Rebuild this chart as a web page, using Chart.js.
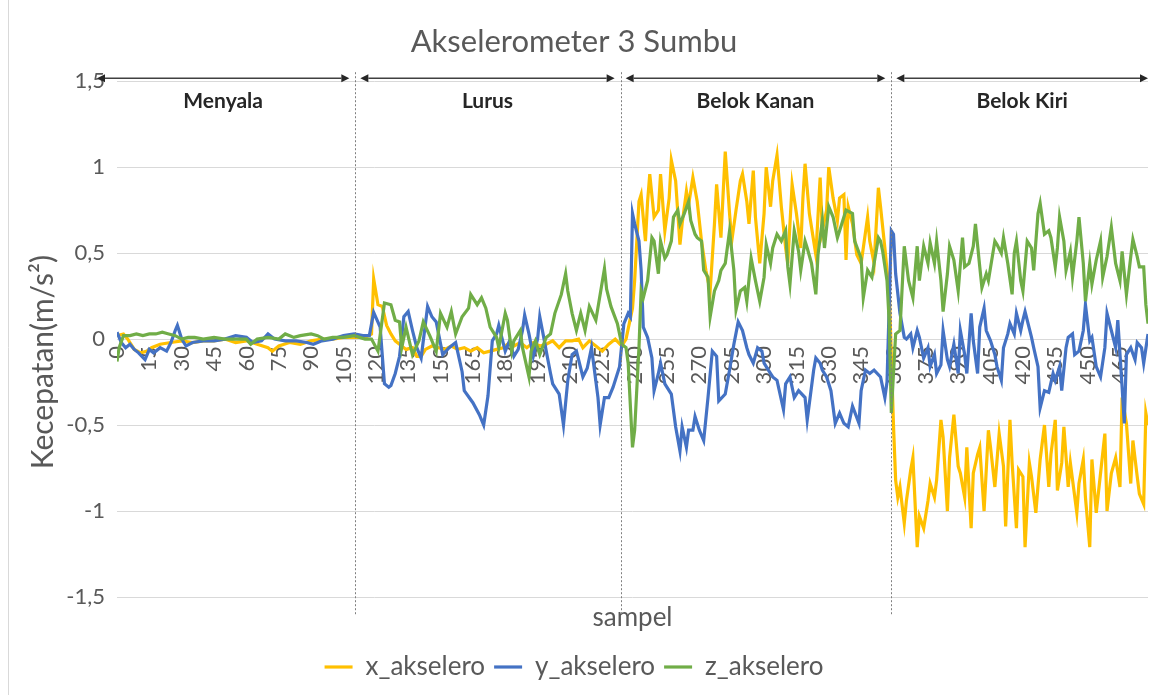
<!DOCTYPE html>
<html>
<head>
<meta charset="utf-8">
<script src="https://cdn.jsdelivr.net/npm/chart.js@4.4.0/dist/chart.umd.min.js"></script>
<style>
  html, body { margin: 0; padding: 0; background: #fff; }
  #wrap { position: relative; width: 1155px; height: 695px; }
</style>
</head>
<body>
<div id="wrap"><canvas id="myChart" width="1155" height="695"></canvas></div>
<script>
// [sample, value]
const xAkselero = [[0,0.02],[3,0.03],[5,0],[8,-0.06],[11,-0.08],[14,-0.07],[16,-0.05],[20,-0.03],[25,-0.02],[30,-0.01],[35,-0.02],[40,-0.01],[45,-0.01],[50,0],[55,-0.02],[60,-0.01],[65,-0.03],[70,-0.05],[72,-0.07],[75,-0.04],[80,-0.02],[85,-0.03],[90,-0.01],[95,0],[100,0],[105,0.01],[110,0.01],[115,0.01],[118,0.03],[119,0.35],[121,0.2],[123,0.19],[125,0.08],[127,0.03],[129,-0.01],[131,-0.03],[134,-0.06],[137,-0.05],[139,-0.1],[141,-0.1],[143,-0.06],[146,-0.04],[149,-0.05],[152,-0.06],[155,-0.04],[158,-0.06],[161,-0.05],[164,-0.07],[167,-0.05],[170,-0.08],[173,-0.07],[176,-0.06],[179,-0.05],[182,-0.02],[184,-0.04],[187,-0.02],[190,-0.05],[193,-0.02],[196,-0.04],[199,-0.03],[202,-0.01],[205,-0.05],[208,-0.01],[211,-0.01],[214,0],[216,-0.05],[219,-0.01],[222,-0.04],[225,-0.07],[228,-0.03],[231,0],[234,-0.04],[236,0],[239,0.18],[240,0.34],[242,0.8],[243,0.84],[245,0.57],[246,0.8],[247,0.96],[249,0.71],[251,0.75],[252,0.96],[254,0.63],[256,0.82],[257,1.04],[259,0.92],[261,0.55],[262,0.67],[264,0.86],[265,0.78],[267,0.94],[269,0.8],[271,0.57],[273,0.4],[275,0.28],[277,0.67],[278,0.9],[280,0.59],[282,1.09],[284,0.73],[285,0.57],[287,0.75],[289,0.92],[290,0.96],[292,0.8],[293,0.67],[295,0.98],[296,0.71],[298,0.44],[300,0.73],[301,1],[303,0.77],[304,0.92],[306,1.07],[308,0.77],[310,0.53],[311,0.44],[313,0.9],[315,0.73],[317,0.53],[318,0.82],[319,1.02],[321,0.73],[323,0.57],[324,0.49],[326,0.94],[327,0.63],[329,0.75],[330,1],[332,0.82],[334,0.69],[335,0.82],[337,0.84],[338,0.46],[339,0.77],[341,0.67],[343,0.49],[345,0.44],[348,0.71],[349,0.57],[351,0.44],[353,0.88],[354,0.77],[356,0.53],[357,0.4],[358,0.3],[360,-0.5],[361,-0.82],[362,-0.92],[363,-0.86],[365,-1.07],[366,-0.94],[368,-0.76],[369,-0.69],[371,-1.21],[372,-1.03],[374,-1.1],[376,-0.94],[377,-0.84],[379,-0.92],[380,-0.82],[382,-0.47],[383,-0.57],[385,-1],[386,-0.69],[388,-0.44],[390,-0.74],[391,-0.78],[393,-0.92],[394,-0.63],[396,-1.1],[397,-0.78],[399,-0.67],[400,-0.63],[402,-1],[404,-0.53],[405,-0.63],[407,-0.86],[409,-0.55],[411,-0.74],[412,-1.09],[414,-0.47],[415,-0.72],[417,-1.1],[418,-0.76],[420,-0.8],[421,-1.21],[423,-0.72],[424,-0.8],[426,-1.01],[428,-0.7],[430,-0.5],[432,-0.86],[433,-0.67],[435,-0.47],[436,-0.88],[438,-0.72],[439,-0.51],[441,-0.86],[442,-0.72],[445,-1.01],[446,-0.84],[448,-0.7],[449,-0.92],[451,-1.21],[452,-0.7],[454,-1.01],[456,-0.78],[458,-0.55],[459,-1],[461,-0.78],[463,-0.69],[465,-0.86],[466,-0.34],[468,-0.49],[470,-0.84],[471,-0.59],[473,-0.8],[474,-0.9],[476,-0.96],[477,-0.43],[478,-0.5]];

const yAkselero = [[0,0.04],[2,-0.02],[4,-0.05],[6,-0.03],[8,-0.06],[10,-0.08],[13,-0.12],[15,-0.06],[17,-0.08],[20,-0.05],[23,-0.07],[25,-0.02],[27,0.05],[28,0.08],[30,0],[32,-0.04],[35,-0.02],[40,-0.01],[45,-0.01],[50,0],[55,0.02],[60,0.01],[63,-0.02],[67,-0.01],[70,0.03],[73,0],[78,-0.01],[83,-0.01],[88,-0.02],[91,-0.03],[95,-0.01],[100,0],[105,0.02],[110,0.03],[114,0.02],[117,0.02],[119,0.155],[122,0.07],[124,-0.26],[126,-0.28],[127,-0.27],[129,-0.2],[131,-0.1],[133,0.13],[135,0.16],[137,0.05],[139,-0.05],[141,-0.11],[144,0.19],[146,0.13],[148,0.1],[151,-0.09],[154,-0.05],[157,-0.02],[160,-0.19],[161,-0.3],[165,-0.37],[168,-0.44],[170,-0.5],[172,-0.33],[174,-0.01],[176,0.03],[177,0.08],[180,-0.07],[182,-0.01],[184,-0.1],[186,-0.06],[188,0.05],[189,0.14],[191,0.03],[193,-0.1],[195,0],[196,0.13],[198,0],[199,-0.07],[201,-0.2],[202,-0.26],[205,-0.32],[207,-0.5],[209,-0.24],[211,-0.09],[213,-0.07],[216,-0.22],[218,-0.17],[220,-0.05],[223,-0.34],[224,-0.5],[226,-0.34],[228,-0.34],[230,-0.28],[233,-0.16],[235,0.09],[237,0.15],[238,0.13],[239,0.73],[240,0.67],[242,0.57],[243,0.4],[244,0.07],[246,0.01],[248,-0.11],[249,-0.3],[251,-0.2],[252,-0.14],[254,-0.26],[257,-0.32],[259,-0.51],[261,-0.65],[262,-0.51],[264,-0.63],[265,-0.53],[267,-0.53],[268,-0.45],[270,-0.53],[272,-0.59],[274,-0.34],[276,-0.07],[278,-0.1],[279,-0.36],[282,-0.32],[284,-0.18],[286,-0.03],[288,0.1],[290,0.05],[292,-0.05],[293,-0.09],[295,-0.14],[297,-0.05],[299,-0.07],[300,-0.14],[302,-0.18],[304,-0.22],[306,-0.24],[309,-0.41],[310,-0.26],[312,-0.22],[314,-0.34],[316,-0.3],[319,-0.34],[320,-0.47],[323,-0.18],[324,-0.11],[326,-0.14],[327,-0.18],[329,-0.22],[331,-0.3],[333,-0.49],[335,-0.43],[337,-0.49],[339,-0.51],[341,-0.39],[344,-0.49],[345,-0.3],[347,-0.18],[349,-0.2],[351,-0.18],[354,-0.22],[356,-0.34],[357,-0.25],[359,0.63],[360,0.61],[361,0.38],[363,0.15],[365,0.01],[366,0],[368,0.03],[369,-0.05],[371,0.05],[372,0.01],[374,-0.11],[376,-0.05],[377,-0.16],[379,-0.09],[380,-0.2],[382,-0.15],[383,0.05],[385,-0.12],[386,-0.16],[388,-0.03],[390,-0.2],[391,0.05],[393,-0.09],[394,-0.2],[396,0.15],[397,-0.01],[399,-0.2],[400,0.07],[402,0.18],[403,0.05],[405,-0.01],[407,-0.09],[408,-0.16],[410,-0.24],[411,-0.05],[413,0.03],[414,0.09],[416,0.03],[417,0.15],[419,0.05],[420,0.11],[421,0.16],[424,0.01],[425,-0.05],[427,-0.16],[428,-0.4],[430,-0.3],[432,-0.31],[434,-0.2],[435,-0.24],[437,-0.16],[438,-0.3],[440,-0.05],[441,0.01],[443,0.03],[444,-0.09],[446,-0.07],[448,0.05],[449,0.2],[451,-0.01],[452,0.01],[454,-0.16],[456,-0.22],[458,-0.05],[459,0.15],[461,0.05],[463,-0.05],[464,0.11],[466,-0.28],[467,-0.49],[468,-0.09],[470,-0.05],[472,-0.12],[473,-0.02],[475,-0.05],[476,-0.14],[478,0.03]];

const zAkselero = [[0,-0.13],[1,-0.05],[3,0.02],[6,0.02],[9,0.03],[12,0.02],[15,0.03],[18,0.03],[21,0.04],[24,0.03],[27,0.02],[30,0],[33,0.01],[36,0.01],[40,0],[45,0.01],[50,0],[55,0],[60,0],[62,-0.03],[65,0],[70,0.01],[75,0],[78,0.03],[82,0.01],[85,0.02],[90,0.03],[93,0.02],[96,0],[100,0.01],[105,0.01],[110,0.02],[115,0],[118,0],[121,-0.07],[124,0.21],[127,0.2],[129,0.11],[131,0.1],[132,-0.05],[134,0.07],[137,-0.09],[140,-0.01],[142,0.1],[145,0.02],[148,-0.07],[150,0.15],[153,0.07],[155,0.16],[157,0.03],[160,0.13],[163,0.18],[164,0.26],[167,0.2],[169,0.24],[171,0.18],[173,0.07],[176,0.01],[177,-0.05],[180,0.15],[181,0.11],[183,-0.07],[184,-0.01],[187,0.05],[188,-0.05],[191,-0.22],[192,-0.07],[194,-0.01],[196,-0.09],[199,0.01],[201,0.03],[203,0.15],[206,0.26],[208,0.38],[209,0.28],[211,0.15],[213,0.05],[215,0.15],[217,0.05],[219,0.19],[222,0.11],[224,0.26],[226,0.41],[227,0.29],[229,0.19],[232,0.09],[234,-0.03],[236,-0.05],[237,-0.14],[239,-0.63],[240,-0.53],[242,-0.05],[243,0.28],[244,0.24],[246,0.34],[248,0.59],[249,0.57],[251,0.38],[252,0.57],[254,0.47],[255,0.49],[257,0.57],[258,0.71],[260,0.75],[261,0.67],[263,0.73],[265,0.8],[266,0.69],[268,0.61],[269,0.59],[271,0.57],[272,0.4],[274,0.36],[275,0.13],[277,0.28],[279,0.34],[280,0.4],[282,0.44],[284,0.63],[286,0.4],[287,0.17],[289,0.28],[291,0.3],[292,0.22],[294,0.47],[296,0.34],[298,0.22],[300,0.36],[301,0.55],[303,0.44],[304,0.53],[306,0.61],[308,0.57],[310,0.63],[311,0.42],[312,0.32],[314,0.63],[316,0.51],[317,0.4],[319,0.57],[320,0.53],[322,0.44],[324,0.26],[325,0.49],[327,0.69],[328,0.53],[330,0.77],[332,0.71],[334,0.59],[336,0.67],[338,0.75],[341,0.73],[342,0.57],[345,0.47],[346,0.24],[348,0.4],[350,0.36],[351,0.44],[353,0.59],[354,0.57],[355,0.51],[357,0.34],[358,0.1],[359,-0.43],[361,0.03],[363,0.05],[365,0.54],[367,0.34],[369,0.24],[371,0.54],[372,0.34],[374,0.54],[376,0.44],[377,0.56],[379,0.44],[380,0.57],[382,0.34],[383,0.16],[385,0.38],[386,0.54],[388,0.46],[390,0.28],[392,0.59],[393,0.42],[395,0.44],[397,0.54],[398,0.67],[400,0.42],[401,0.3],[403,0.38],[404,0.34],[407,0.57],[408,0.55],[410,0.5],[411,0.59],[413,0.44],[415,0.26],[416,0.5],[417,0.57],[419,0.34],[420,0.28],[422,0.57],[424,0.53],[425,0.4],[427,0.73],[428,0.79],[430,0.61],[432,0.63],[433,0.59],[435,0.42],[436,0.53],[437,0.71],[439,0.57],[440,0.4],[442,0.51],[443,0.36],[445,0.57],[446,0.71],[448,0.44],[449,0.22],[451,0.44],[452,0.32],[454,0.46],[456,0.57],[457,0.36],[459,0.48],[461,0.65],[463,0.44],[465,0.34],[466,0.51],[468,0.26],[470,0.48],[471,0.58],[473,0.48],[474,0.42],[476,0.42],[477,0.2],[478,0.09]];

const seriesNames = ['x_akselero', 'y_akselero', 'z_akselero'];
const seriesColors = ['#FFC000', '#4472C4', '#70AD47'];
const sections = ['Menyala', 'Lurus', 'Belok Kanan', 'Belok Kiri'];
const sectionBounds = [0, 110.5, 233.5, 359, 478];  // sample where each phase starts / ends

const grey = '#595959';
Chart.defaults.font.family = 'Lato, sans-serif';
Chart.defaults.color = grey;

function arrow(ctx, x0, x1, y) {
  const h = 8, w = 4;
  ctx.beginPath();
  ctx.moveTo(x0 + h, y); ctx.lineTo(x1 - h, y);
  ctx.stroke();
  ctx.beginPath();
  ctx.moveTo(x0, y); ctx.lineTo(x0 + h, y - w); ctx.lineTo(x0 + h, y + w); ctx.closePath();
  ctx.moveTo(x1, y); ctx.lineTo(x1 - h, y - w); ctx.lineTo(x1 - h, y + w); ctx.closePath();
  ctx.fill();
}

// phase markers: dotted separators, double arrows and labels
const phasePlugin = {
  id: 'phases',
  afterDatasetsDraw(chart) {
    const {ctx, chartArea, scales: {x, y}} = chart;
    const top = y.getPixelForValue(1.5) - 3;
    ctx.save();
    ctx.strokeStyle = '#7f7f7f';
    ctx.lineWidth = 1;
    ctx.setLineDash([2, 2]);
    for (let i = 1; i < sectionBounds.length - 1; i++) {
      const px = Math.round(x.getPixelForValue(sectionBounds[i])) + 0.5;
      ctx.beginPath();
      ctx.moveTo(px, top - 6);
      ctx.lineTo(px, chartArea.bottom + 18);
      ctx.stroke();
    }
    ctx.setLineDash([]);
    ctx.strokeStyle = '#404040';
    ctx.fillStyle = '#262626';
    ctx.lineWidth = 1.5;
    ctx.font = 'bold 21px Lato, sans-serif';
    ctx.textAlign = 'center';
    ctx.textBaseline = 'middle';
    for (let i = 0; i < sections.length; i++) {
      const x0 = i === 0 ? chartArea.left - 20 : x.getPixelForValue(sectionBounds[i]) + 5;
      const x1 = x.getPixelForValue(sectionBounds[i + 1]) - (i === sections.length - 1 ? 0 : 6);
      arrow(ctx, x0, x1, top);
      ctx.fillText(sections[i], (x0 + x1) / 2, top + 23);
    }
    ctx.restore();
  }
};

// thin frame line on the left, as in the exported picture
const framePlugin = {
  id: 'frame',
  beforeDraw(chart) {
    const {ctx, height} = chart;
    ctx.save();
    ctx.strokeStyle = '#d9d9d9';
    ctx.lineWidth = 1;
    ctx.beginPath();
    ctx.moveTo(8.5, 0);
    ctx.lineTo(8.5, height);
    ctx.stroke();
    ctx.restore();
  }
};

const pts = arr => arr.map(p => ({x: p[0], y: p[1]}));

const ctx = document.getElementById('myChart').getContext('2d');
const chart = new Chart(ctx, {
  type: 'line',
  data: {
    datasets: [xAkselero, yAkselero, zAkselero].map((s, i) => ({
      label: seriesNames[i],
      data: pts(s),
      borderColor: seriesColors[i],
      backgroundColor: seriesColors[i],
      borderWidth: 3.2,
      pointRadius: 0,
      tension: 0,
      order: 3 - i
    }))
  },
  options: {
    responsive: false,
    animation: false,
    devicePixelRatio: 1,
    layout: { padding: { left: 0, right: 7, bottom: 5 } },
    plugins: {
      title: {
        display: true,
        text: 'Akselerometer 3 Sumbu',
        color: grey,
        font: { size: 31, weight: 'normal' },
        padding: { top: 23, bottom: 21 }
      },
      legend: {
        position: 'bottom',
        labels: {
          usePointStyle: true,
          pointStyle: 'line',
          pointStyleWidth: 28,
          color: grey,
          font: { size: 26 },
          padding: 9,
          sort: (a, b) => a.datasetIndex - b.datasetIndex
        }
      },
      tooltip: { enabled: false }
    },
    scales: {
      x: {
        type: 'linear',
        position: { y: 0 },
        min: 0,
        max: 478,
        ticks: {
          stepSize: 15,
          includeBounds: false,
          autoSkip: false,
          minRotation: 90,
          maxRotation: 90,
          padding: 7,
          color: grey,
          font: { size: 22 }
        },
        grid: { drawOnChartArea: false, drawTicks: false },
        border: { display: false }
      },
      xt: {
        type: 'linear',
        position: 'bottom',
        min: 0,
        max: 478,
        ticks: { display: false },
        grid: { display: false, drawTicks: false },
        border: { display: false },
        title: { display: true, text: 'sampel', color: grey, font: { size: 26 }, padding: { top: 0, bottom: 12 } },
        afterFit(s) { s.height = 48; }
      },
      y: {
        min: -1.5,
        max: 1.5,
        ticks: {
          stepSize: 0.5,
          padding: 12,
          color: grey,
          font: { size: 22 },
          callback: v => String(v).replace('.', ',')
        },
        grid: { color: '#d9d9d9', drawTicks: false },
        border: { display: false },
        title: { display: true, text: 'Kecepatan(m/s²)      ', color: grey, font: { size: 30 }, padding: { top: 25 } },
        afterFit(s) { s.width = 117; }
      }
    }
  },
  plugins: [phasePlugin, framePlugin]
});
</script>
</body>
</html>
